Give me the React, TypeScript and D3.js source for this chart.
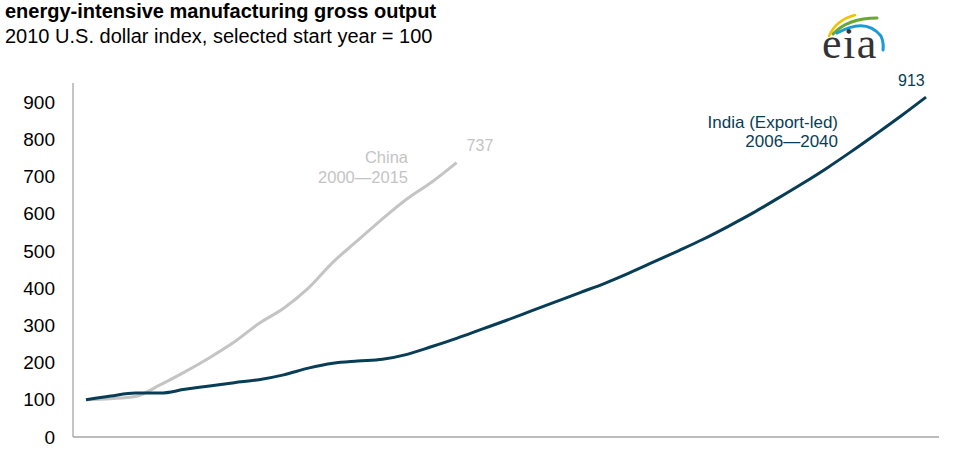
import React from "react";
import * as d3 from "d3";

const yTicks = [0, 100, 200, 300, 400, 500, 600, 700, 800, 900];

// India (Export-led), 2006–2040
const indiaStart = 2006;
const indiaValues = [
  100, 110, 118, 118, 128, 137, 146, 154, 167, 185,
  198, 204, 209, 222, 243, 265, 289, 313, 338, 363,
  388, 413, 441, 471, 501, 532, 566, 602, 641, 681,
  723, 768, 815, 863, 913,
];

// China, 2000–2015
const chinaStart = 2000;
const chinaValues = [
  100, 103, 109, 140, 175, 213, 255, 305, 346, 400,
  470, 528, 586, 640, 685, 737,
];

const W = 959;
const H = 458;

export default function App() {
  const x = d3.scaleLinear().domain([0, 34]).range([86, 926]);
  const y = d3.scaleLinear().domain([0, 900]).range([437, 102]);

  const line = d3
    .line<number>()
    .x((_, i) => x(i))
    .y((d) => y(d))
    .curve(d3.curveMonotoneX);

  const indiaColor = "#083d56";
  const chinaColor = "#c4c4c4";
  const font = "Liberation Sans, Arial, sans-serif";

  const chinaLast = chinaValues.length - 1;
  const indiaLast = indiaValues.length - 1;

  return (
    <svg
      width={W}
      height={H}
      style={{ position: "absolute", left: 0, top: 0, background: "#fff" }}
      fontFamily={font}
    >
      {/* titles */}
      <text x={5} y={18} fontSize={20} fontWeight="bold" fill="#000">
        energy-intensive manufacturing gross output
      </text>
      <text x={5} y={43} fontSize={20} fill="#000">
        2010 U.S. dollar index, selected start year = 100
      </text>

      {/* eia logo */}
      <g>
        <path d="M829 36 Q836 20 855 15" stroke="#f2c200" strokeWidth={2.5} fill="none" strokeLinecap="round" />
        <path d="M833 34 Q848 18 877 18" stroke="#6aa832" strokeWidth={3} fill="none" strokeLinecap="round" />
        <path d="M837 33 Q866 17 881 36 Q884 43 883 50" stroke="#1a9bd7" strokeWidth={3} fill="none" strokeLinecap="round" />
        <text x={822} y={58} fontSize={44} letterSpacing={1.5} fontFamily="Liberation Serif, DejaVu Serif, serif" fill="#333">
          eia
        </text>
      </g>

      {/* axes */}
      <line x1={73} x2={73} y1={83} y2={437} stroke="#a6a6a6" strokeWidth={1.3} />
      <line x1={73} x2={939} y1={437} y2={437} stroke="#a6a6a6" strokeWidth={1.3} />

      {yTicks.map((t) => (
        <text key={t} x={55} y={y(t)} dy="0.35em" fontSize={19} textAnchor="end" fill="#000">
          {t}
        </text>
      ))}

      {/* series */}
      <path d={line(chinaValues) || ""} fill="none" stroke={chinaColor} strokeWidth={3} />
      <path d={line(indiaValues) || ""} fill="none" stroke={indiaColor} strokeWidth={3} />

      {/* China labels */}
      <text x={x(chinaLast) + 10} y={y(chinaValues[chinaLast]) - 12} fontSize={16} fill={chinaColor}>
        {chinaValues[chinaLast]}
      </text>
      <text x={408} y={163} fontSize={16.5} textAnchor="end" fill={chinaColor}>
        China
      </text>
      <text x={408} y={183} fontSize={16.5} textAnchor="end" fill={chinaColor}>
        {chinaStart}—{chinaStart + chinaLast}
      </text>

      {/* India labels */}
      <text x={x(indiaLast) - 28} y={y(indiaValues[indiaLast]) - 11} fontSize={16} fill={indiaColor}>
        {indiaValues[indiaLast]}
      </text>
      <text x={838} y={128} fontSize={17} textAnchor="end" fill={indiaColor}>
        India (Export-led)
      </text>
      <text x={838} y={147} fontSize={17} textAnchor="end" fill={indiaColor}>
        {indiaStart}—{indiaStart + indiaLast}
      </text>
    </svg>
  );
}
